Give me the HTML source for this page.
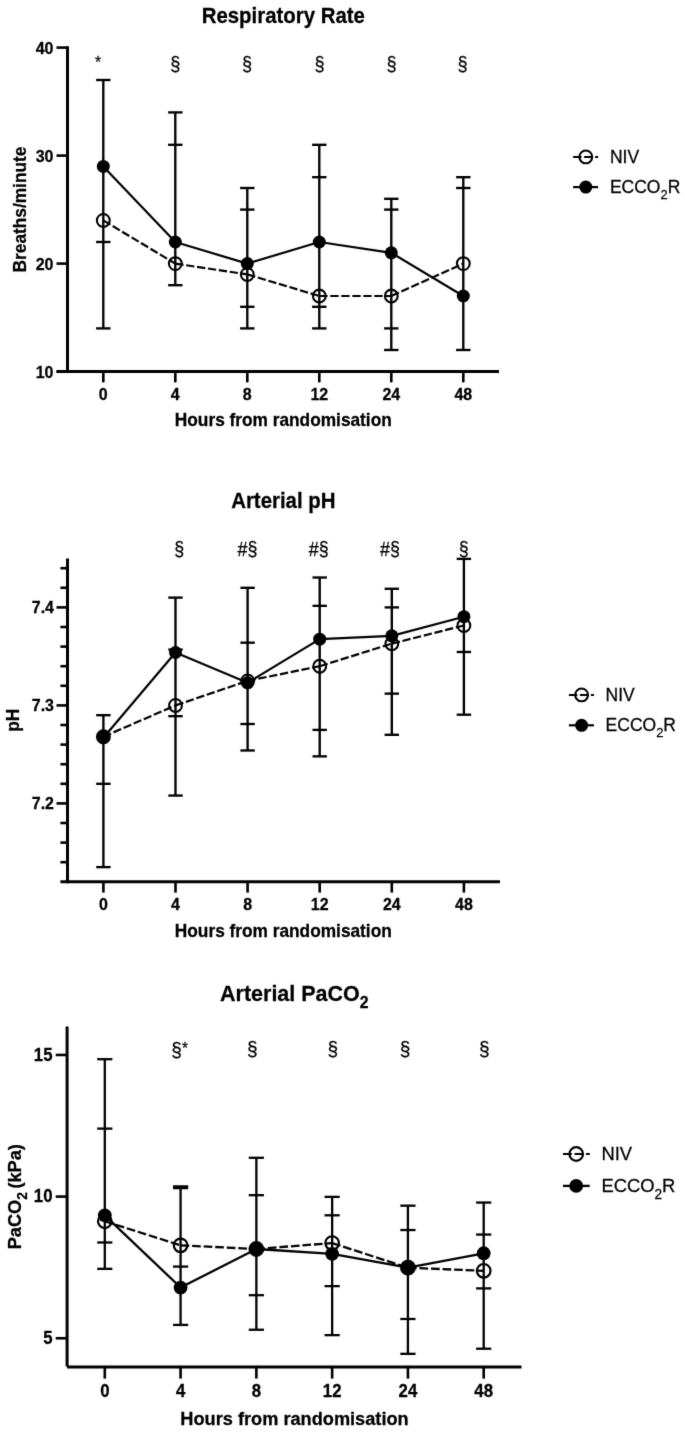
<!DOCTYPE html>
<html><head><meta charset="utf-8"><style>
html,body{margin:0;padding:0;background:#fff;}
svg{display:block;}
#w{width:685px;height:1432px;}
text{font-family:"Liberation Sans", sans-serif;fill:#000;}
</style></head><body>
<div id="w">
<svg width="685" height="1432" viewBox="0 0 685 1432" stroke="#000" stroke-linecap="butt">
<defs><filter id="soft" filterUnits="userSpaceOnUse" x="0" y="0" width="685" height="1432" color-interpolation-filters="sRGB"><feConvolveMatrix order="3" kernelMatrix="1 8 1 8 64 8 1 8 1" divisor="100" edgeMode="duplicate"/></filter></defs>
<g filter="url(#soft)">
<rect x="0" y="0" width="685" height="1432" fill="#fff" stroke="none"/>
<line x1="67.50" y1="46.30" x2="67.50" y2="373.10" stroke-width="3.0" />
<line x1="56.50" y1="371.60" x2="499.00" y2="371.60" stroke-width="3.0" />
<line x1="56.50" y1="47.60" x2="67.50" y2="47.60" stroke-width="2.6" />
<text stroke="#000" stroke-width="0.25" transform="translate(53.50,53.90) scale(1,1.04)" font-size="16" font-weight="bold" text-anchor="end" >40</text>
<line x1="56.50" y1="155.60" x2="67.50" y2="155.60" stroke-width="2.6" />
<text stroke="#000" stroke-width="0.25" transform="translate(53.50,161.90) scale(1,1.04)" font-size="16" font-weight="bold" text-anchor="end" >30</text>
<line x1="56.50" y1="263.60" x2="67.50" y2="263.60" stroke-width="2.6" />
<text stroke="#000" stroke-width="0.25" transform="translate(53.50,269.90) scale(1,1.04)" font-size="16" font-weight="bold" text-anchor="end" >20</text>
<line x1="56.50" y1="371.60" x2="67.50" y2="371.60" stroke-width="2.6" />
<text stroke="#000" stroke-width="0.25" transform="translate(53.50,377.90) scale(1,1.04)" font-size="16" font-weight="bold" text-anchor="end" >10</text>
<line x1="103.30" y1="371.60" x2="103.30" y2="382.40" stroke-width="2.6" />
<text stroke="#000" stroke-width="0.25" transform="translate(103.30,400.00) scale(1,1.04)" font-size="16" font-weight="bold" text-anchor="middle" >0</text>
<line x1="175.30" y1="371.60" x2="175.30" y2="382.40" stroke-width="2.6" />
<text stroke="#000" stroke-width="0.25" transform="translate(175.30,400.00) scale(1,1.04)" font-size="16" font-weight="bold" text-anchor="middle" >4</text>
<line x1="247.30" y1="371.60" x2="247.30" y2="382.40" stroke-width="2.6" />
<text stroke="#000" stroke-width="0.25" transform="translate(247.30,400.00) scale(1,1.04)" font-size="16" font-weight="bold" text-anchor="middle" >8</text>
<line x1="319.30" y1="371.60" x2="319.30" y2="382.40" stroke-width="2.6" />
<text stroke="#000" stroke-width="0.25" transform="translate(319.30,400.00) scale(1,1.04)" font-size="16" font-weight="bold" text-anchor="middle" >12</text>
<line x1="391.30" y1="371.60" x2="391.30" y2="382.40" stroke-width="2.6" />
<text stroke="#000" stroke-width="0.25" transform="translate(391.30,400.00) scale(1,1.04)" font-size="16" font-weight="bold" text-anchor="middle" >24</text>
<line x1="463.30" y1="371.60" x2="463.30" y2="382.40" stroke-width="2.6" />
<text stroke="#000" stroke-width="0.25" transform="translate(463.30,400.00) scale(1,1.04)" font-size="16" font-weight="bold" text-anchor="middle" >48</text>
<text stroke="#000" stroke-width="0.25" transform="translate(283.30,425.60) scale(1,1.04)" font-size="17.3" font-weight="bold" text-anchor="middle" >Hours from randomisation</text>
<text stroke="#000" stroke-width="0.25" transform="translate(26.40,209.50) rotate(-90) scale(1,1.04)" font-size="17.3" font-weight="bold" text-anchor="middle">Breaths/minute</text>
<text stroke="#000" stroke-width="0.25" transform="translate(283.30,22.60) scale(1,1.04)" font-size="20.4" font-weight="bold" text-anchor="middle" >Respiratory Rate</text>
<line x1="103.30" y1="80.00" x2="103.30" y2="328.40" stroke-width="2.35" />
<line x1="96.10" y1="80.00" x2="110.50" y2="80.00" stroke-width="2.35" />
<line x1="96.10" y1="242.00" x2="110.50" y2="242.00" stroke-width="2.35" />
<line x1="96.10" y1="328.40" x2="110.50" y2="328.40" stroke-width="2.35" />
<line x1="175.30" y1="112.40" x2="175.30" y2="285.20" stroke-width="2.35" />
<line x1="168.10" y1="112.40" x2="182.50" y2="112.40" stroke-width="2.35" />
<line x1="168.10" y1="144.80" x2="182.50" y2="144.80" stroke-width="2.35" />
<line x1="168.10" y1="285.20" x2="182.50" y2="285.20" stroke-width="2.35" />
<line x1="247.30" y1="188.00" x2="247.30" y2="328.40" stroke-width="2.35" />
<line x1="240.10" y1="188.00" x2="254.50" y2="188.00" stroke-width="2.35" />
<line x1="240.10" y1="209.60" x2="254.50" y2="209.60" stroke-width="2.35" />
<line x1="240.10" y1="306.80" x2="254.50" y2="306.80" stroke-width="2.35" />
<line x1="240.10" y1="328.40" x2="254.50" y2="328.40" stroke-width="2.35" />
<line x1="319.30" y1="144.80" x2="319.30" y2="328.40" stroke-width="2.35" />
<line x1="312.10" y1="144.80" x2="326.50" y2="144.80" stroke-width="2.35" />
<line x1="312.10" y1="177.20" x2="326.50" y2="177.20" stroke-width="2.35" />
<line x1="312.10" y1="306.80" x2="326.50" y2="306.80" stroke-width="2.35" />
<line x1="312.10" y1="328.40" x2="326.50" y2="328.40" stroke-width="2.35" />
<line x1="391.30" y1="198.80" x2="391.30" y2="350.00" stroke-width="2.35" />
<line x1="384.10" y1="198.80" x2="398.50" y2="198.80" stroke-width="2.35" />
<line x1="384.10" y1="209.60" x2="398.50" y2="209.60" stroke-width="2.35" />
<line x1="384.10" y1="328.40" x2="398.50" y2="328.40" stroke-width="2.35" />
<line x1="384.10" y1="350.00" x2="398.50" y2="350.00" stroke-width="2.35" />
<line x1="463.30" y1="177.20" x2="463.30" y2="350.00" stroke-width="2.35" />
<line x1="456.10" y1="177.20" x2="470.50" y2="177.20" stroke-width="2.35" />
<line x1="456.10" y1="188.00" x2="470.50" y2="188.00" stroke-width="2.35" />
<line x1="456.10" y1="350.00" x2="470.50" y2="350.00" stroke-width="2.35" />
<polyline points="103.30,166.40 175.30,242.00 247.30,263.60 319.30,242.00 391.30,252.80 463.30,296.00" fill="none" stroke-width="2.2" stroke-linejoin="round"/>
<line x1="103.30" y1="220.40" x2="175.30" y2="263.60" stroke-width="2.2" stroke-dasharray="8.3 2.7"/>
<line x1="175.30" y1="263.60" x2="247.30" y2="274.40" stroke-width="2.2" stroke-dasharray="8.3 2.7"/>
<line x1="247.30" y1="274.40" x2="319.30" y2="296.00" stroke-width="2.2" stroke-dasharray="8.3 2.7"/>
<line x1="319.30" y1="296.00" x2="391.30" y2="296.00" stroke-width="2.2" stroke-dasharray="8.3 2.7"/>
<line x1="391.30" y1="296.00" x2="463.30" y2="263.60" stroke-width="2.2" stroke-dasharray="8.3 2.7"/>
<circle cx="103.30" cy="166.40" r="6.5" fill="#000" stroke="none"/>
<circle cx="175.30" cy="242.00" r="6.5" fill="#000" stroke="none"/>
<circle cx="247.30" cy="263.60" r="6.5" fill="#000" stroke="none"/>
<circle cx="319.30" cy="242.00" r="6.5" fill="#000" stroke="none"/>
<circle cx="391.30" cy="252.80" r="6.5" fill="#000" stroke="none"/>
<circle cx="463.30" cy="296.00" r="6.5" fill="#000" stroke="none"/>
<circle cx="103.30" cy="220.40" r="6.4" fill="none" stroke-width="2.1"/>
<circle cx="175.30" cy="263.60" r="6.4" fill="none" stroke-width="2.1"/>
<circle cx="247.30" cy="274.40" r="6.4" fill="none" stroke-width="2.1"/>
<circle cx="319.30" cy="296.00" r="6.4" fill="none" stroke-width="2.1"/>
<circle cx="391.30" cy="296.00" r="6.4" fill="none" stroke-width="2.1"/>
<circle cx="463.30" cy="263.60" r="6.4" fill="none" stroke-width="2.1"/>
<text stroke="#000" stroke-width="0.25" transform="translate(98.00,68.20) scale(0.92,1)" font-size="17" font-weight="normal" text-anchor="middle">*</text>
<text stroke="#000" stroke-width="0.25" transform="translate(175.20,71.20) scale(0.92,1)" font-size="19.8" font-weight="normal" text-anchor="middle">§</text>
<text stroke="#000" stroke-width="0.25" transform="translate(247.00,71.20) scale(0.92,1)" font-size="19.8" font-weight="normal" text-anchor="middle">§</text>
<text stroke="#000" stroke-width="0.25" transform="translate(319.60,71.20) scale(0.92,1)" font-size="19.8" font-weight="normal" text-anchor="middle">§</text>
<text stroke="#000" stroke-width="0.25" transform="translate(391.50,71.20) scale(0.92,1)" font-size="19.8" font-weight="normal" text-anchor="middle">§</text>
<text stroke="#000" stroke-width="0.25" transform="translate(462.60,71.20) scale(0.92,1)" font-size="19.8" font-weight="normal" text-anchor="middle">§</text>
<line x1="573.10" y1="156.90" x2="598.10" y2="156.90" stroke-width="2.00" stroke-dasharray="8.40 2.60"/>
<circle cx="585.80" cy="156.90" r="6.4" fill="none" stroke-width="2.1"/>
<line x1="573.10" y1="187.10" x2="598.10" y2="187.10" stroke-width="2.20"/>
<circle cx="585.80" cy="187.10" r="6.5" fill="#000" stroke="none"/>
<text stroke="#000" stroke-width="0.25" transform="translate(609.90,162.70) scale(1,1.04)" font-size="17.5" font-weight="normal">NIV</text>
<text stroke="#000" stroke-width="0.25" transform="translate(609.90,192.90) scale(1,1.04)" font-size="17.5" font-weight="normal">ECCO<tspan font-size="12.95" dy="6.00">2</tspan><tspan dy="-6.00">R</tspan></text>
<line x1="67.50" y1="558.40" x2="67.50" y2="883.30" stroke-width="3.0" />
<line x1="60.40" y1="881.80" x2="500.00" y2="881.80" stroke-width="3.0" />
<line x1="56.50" y1="607.40" x2="67.50" y2="607.40" stroke-width="2.6" />
<text stroke="#000" stroke-width="0.25" transform="translate(54.00,613.40) scale(1,1.04)" font-size="16" font-weight="bold" text-anchor="end" >7.4</text>
<line x1="56.50" y1="705.40" x2="67.50" y2="705.40" stroke-width="2.6" />
<text stroke="#000" stroke-width="0.25" transform="translate(54.00,711.40) scale(1,1.04)" font-size="16" font-weight="bold" text-anchor="end" >7.3</text>
<line x1="56.50" y1="803.40" x2="67.50" y2="803.40" stroke-width="2.6" />
<text stroke="#000" stroke-width="0.25" transform="translate(54.00,809.40) scale(1,1.04)" font-size="16" font-weight="bold" text-anchor="end" >7.2</text>
<line x1="60.40" y1="568.20" x2="67.50" y2="568.20" stroke-width="2.6" />
<line x1="60.40" y1="587.80" x2="67.50" y2="587.80" stroke-width="2.6" />
<line x1="60.40" y1="627.00" x2="67.50" y2="627.00" stroke-width="2.6" />
<line x1="60.40" y1="646.60" x2="67.50" y2="646.60" stroke-width="2.6" />
<line x1="60.40" y1="666.20" x2="67.50" y2="666.20" stroke-width="2.6" />
<line x1="60.40" y1="685.80" x2="67.50" y2="685.80" stroke-width="2.6" />
<line x1="60.40" y1="725.00" x2="67.50" y2="725.00" stroke-width="2.6" />
<line x1="60.40" y1="744.60" x2="67.50" y2="744.60" stroke-width="2.6" />
<line x1="60.40" y1="764.20" x2="67.50" y2="764.20" stroke-width="2.6" />
<line x1="60.40" y1="783.80" x2="67.50" y2="783.80" stroke-width="2.6" />
<line x1="60.40" y1="823.00" x2="67.50" y2="823.00" stroke-width="2.6" />
<line x1="60.40" y1="842.60" x2="67.50" y2="842.60" stroke-width="2.6" />
<line x1="60.40" y1="862.20" x2="67.50" y2="862.20" stroke-width="2.6" />
<line x1="103.40" y1="881.80" x2="103.40" y2="892.60" stroke-width="2.6" />
<text stroke="#000" stroke-width="0.25" transform="translate(103.40,910.40) scale(1,1.04)" font-size="16" font-weight="bold" text-anchor="middle" >0</text>
<line x1="175.50" y1="881.80" x2="175.50" y2="892.60" stroke-width="2.6" />
<text stroke="#000" stroke-width="0.25" transform="translate(175.50,910.40) scale(1,1.04)" font-size="16" font-weight="bold" text-anchor="middle" >4</text>
<line x1="247.60" y1="881.80" x2="247.60" y2="892.60" stroke-width="2.6" />
<text stroke="#000" stroke-width="0.25" transform="translate(247.60,910.40) scale(1,1.04)" font-size="16" font-weight="bold" text-anchor="middle" >8</text>
<line x1="319.70" y1="881.80" x2="319.70" y2="892.60" stroke-width="2.6" />
<text stroke="#000" stroke-width="0.25" transform="translate(319.70,910.40) scale(1,1.04)" font-size="16" font-weight="bold" text-anchor="middle" >12</text>
<line x1="391.80" y1="881.80" x2="391.80" y2="892.60" stroke-width="2.6" />
<text stroke="#000" stroke-width="0.25" transform="translate(391.80,910.40) scale(1,1.04)" font-size="16" font-weight="bold" text-anchor="middle" >24</text>
<line x1="463.90" y1="881.80" x2="463.90" y2="892.60" stroke-width="2.6" />
<text stroke="#000" stroke-width="0.25" transform="translate(463.90,910.40) scale(1,1.04)" font-size="16" font-weight="bold" text-anchor="middle" >48</text>
<text stroke="#000" stroke-width="0.25" transform="translate(283.30,937.40) scale(1,1.04)" font-size="17.3" font-weight="bold" text-anchor="middle" >Hours from randomisation</text>
<text stroke="#000" stroke-width="0.25" transform="translate(18.90,720.20) rotate(-90) scale(1,1.04)" font-size="17.3" font-weight="bold" text-anchor="middle">pH</text>
<text stroke="#000" stroke-width="0.25" transform="translate(283.30,507.60) scale(1,1.04)" font-size="20.4" font-weight="bold" text-anchor="middle" >Arterial pH</text>
<line x1="103.40" y1="715.20" x2="103.40" y2="867.10" stroke-width="2.35" />
<line x1="96.20" y1="715.20" x2="110.60" y2="715.20" stroke-width="2.35" />
<line x1="96.20" y1="783.80" x2="110.60" y2="783.80" stroke-width="2.35" />
<line x1="96.20" y1="867.10" x2="110.60" y2="867.10" stroke-width="2.35" />
<line x1="175.50" y1="597.60" x2="175.50" y2="795.56" stroke-width="2.35" />
<line x1="168.30" y1="597.60" x2="182.70" y2="597.60" stroke-width="2.35" />
<line x1="168.30" y1="649.54" x2="182.70" y2="649.54" stroke-width="2.35" />
<line x1="168.30" y1="716.18" x2="182.70" y2="716.18" stroke-width="2.35" />
<line x1="168.30" y1="795.56" x2="182.70" y2="795.56" stroke-width="2.35" />
<line x1="247.60" y1="587.80" x2="247.60" y2="750.48" stroke-width="2.35" />
<line x1="240.40" y1="587.80" x2="254.80" y2="587.80" stroke-width="2.35" />
<line x1="240.40" y1="642.68" x2="254.80" y2="642.68" stroke-width="2.35" />
<line x1="240.40" y1="724.02" x2="254.80" y2="724.02" stroke-width="2.35" />
<line x1="240.40" y1="750.48" x2="254.80" y2="750.48" stroke-width="2.35" />
<line x1="319.70" y1="577.51" x2="319.70" y2="756.36" stroke-width="2.35" />
<line x1="312.50" y1="577.51" x2="326.90" y2="577.51" stroke-width="2.35" />
<line x1="312.50" y1="605.83" x2="326.90" y2="605.83" stroke-width="2.35" />
<line x1="312.50" y1="729.90" x2="326.90" y2="729.90" stroke-width="2.35" />
<line x1="312.50" y1="756.36" x2="326.90" y2="756.36" stroke-width="2.35" />
<line x1="391.80" y1="588.78" x2="391.80" y2="734.80" stroke-width="2.35" />
<line x1="384.60" y1="588.78" x2="399.00" y2="588.78" stroke-width="2.35" />
<line x1="384.60" y1="607.40" x2="399.00" y2="607.40" stroke-width="2.35" />
<line x1="384.60" y1="693.64" x2="399.00" y2="693.64" stroke-width="2.35" />
<line x1="384.60" y1="734.80" x2="399.00" y2="734.80" stroke-width="2.35" />
<line x1="463.90" y1="558.89" x2="463.90" y2="714.71" stroke-width="2.35" />
<line x1="456.70" y1="558.89" x2="471.10" y2="558.89" stroke-width="2.35" />
<line x1="456.70" y1="651.99" x2="471.10" y2="651.99" stroke-width="2.35" />
<line x1="456.70" y1="714.71" x2="471.10" y2="714.71" stroke-width="2.35" />
<polyline points="103.40,737.74 175.50,652.48 247.60,682.86 319.70,639.15 391.80,635.82 463.90,616.71" fill="none" stroke-width="2.2" stroke-linejoin="round"/>
<line x1="103.40" y1="736.76" x2="175.50" y2="705.40" stroke-width="2.2" stroke-dasharray="8.3 2.7"/>
<line x1="175.50" y1="705.40" x2="247.60" y2="680.90" stroke-width="2.2" stroke-dasharray="8.3 2.7"/>
<line x1="247.60" y1="680.90" x2="319.70" y2="666.20" stroke-width="2.2" stroke-dasharray="8.3 2.7"/>
<line x1="319.70" y1="666.20" x2="391.80" y2="643.66" stroke-width="2.2" stroke-dasharray="8.3 2.7"/>
<line x1="391.80" y1="643.66" x2="463.90" y2="625.43" stroke-width="2.2" stroke-dasharray="8.3 2.7"/>
<circle cx="103.40" cy="737.74" r="6.5" fill="#000" stroke="none"/>
<circle cx="175.50" cy="652.48" r="6.5" fill="#000" stroke="none"/>
<circle cx="247.60" cy="682.86" r="6.5" fill="#000" stroke="none"/>
<circle cx="319.70" cy="639.15" r="6.5" fill="#000" stroke="none"/>
<circle cx="391.80" cy="635.82" r="6.5" fill="#000" stroke="none"/>
<circle cx="463.90" cy="616.71" r="6.5" fill="#000" stroke="none"/>
<circle cx="103.40" cy="736.76" r="6.4" fill="none" stroke-width="2.1"/>
<circle cx="175.50" cy="705.40" r="6.4" fill="none" stroke-width="2.1"/>
<circle cx="247.60" cy="680.90" r="6.4" fill="none" stroke-width="2.1"/>
<circle cx="319.70" cy="666.20" r="6.4" fill="none" stroke-width="2.1"/>
<circle cx="391.80" cy="643.66" r="6.4" fill="none" stroke-width="2.1"/>
<circle cx="463.90" cy="625.43" r="6.4" fill="none" stroke-width="2.1"/>
<text stroke="#000" stroke-width="0.25" transform="translate(179.30,556.00) scale(0.92,1)" font-size="19.5" font-weight="normal" text-anchor="middle">§</text>
<text stroke="#000" stroke-width="0.25" transform="translate(247.40,556.00) scale(0.92,1)" font-size="19.5" font-weight="normal" text-anchor="middle">#§</text>
<text stroke="#000" stroke-width="0.25" transform="translate(318.80,556.00) scale(0.92,1)" font-size="19.5" font-weight="normal" text-anchor="middle">#§</text>
<text stroke="#000" stroke-width="0.25" transform="translate(390.00,556.00) scale(0.92,1)" font-size="19.5" font-weight="normal" text-anchor="middle">#§</text>
<text stroke="#000" stroke-width="0.25" transform="translate(463.70,556.00) scale(0.92,1)" font-size="19.5" font-weight="normal" text-anchor="middle">§</text>
<line x1="568.90" y1="694.90" x2="593.90" y2="694.90" stroke-width="2.00" stroke-dasharray="8.40 2.60"/>
<circle cx="581.60" cy="694.90" r="6.4" fill="none" stroke-width="2.1"/>
<line x1="568.90" y1="725.30" x2="593.90" y2="725.30" stroke-width="2.20"/>
<circle cx="581.60" cy="725.30" r="6.5" fill="#000" stroke="none"/>
<text stroke="#000" stroke-width="0.25" transform="translate(605.60,700.70) scale(1,1.04)" font-size="17.5" font-weight="normal">NIV</text>
<text stroke="#000" stroke-width="0.25" transform="translate(605.60,731.10) scale(1,1.04)" font-size="17.5" font-weight="normal">ECCO<tspan font-size="12.95" dy="6.00">2</tspan><tspan dy="-6.00">R</tspan></text>
<line x1="67.10" y1="1026.60" x2="67.10" y2="1366.50" stroke-width="3.0" />
<line x1="67.10" y1="1367.00" x2="521.50" y2="1367.00" stroke-width="3.0" />
<line x1="55.70" y1="1054.95" x2="67.10" y2="1054.95" stroke-width="2.6" />
<text stroke="#000" stroke-width="0.25" transform="translate(52.50,1060.55) scale(1,1.04)" font-size="16.8" font-weight="bold" text-anchor="end" >15</text>
<line x1="55.70" y1="1196.60" x2="67.10" y2="1196.60" stroke-width="2.6" />
<text stroke="#000" stroke-width="0.25" transform="translate(52.50,1202.20) scale(1,1.04)" font-size="16.8" font-weight="bold" text-anchor="end" >10</text>
<line x1="55.70" y1="1338.25" x2="67.10" y2="1338.25" stroke-width="2.6" />
<text stroke="#000" stroke-width="0.25" transform="translate(52.50,1343.85) scale(1,1.04)" font-size="16.8" font-weight="bold" text-anchor="end" >5</text>
<line x1="104.80" y1="1367.00" x2="104.80" y2="1378.60" stroke-width="2.6" />
<text stroke="#000" stroke-width="0.25" transform="translate(104.80,1396.80) scale(1,1.04)" font-size="16.8" font-weight="bold" text-anchor="middle" >0</text>
<line x1="180.58" y1="1367.00" x2="180.58" y2="1378.60" stroke-width="2.6" />
<text stroke="#000" stroke-width="0.25" transform="translate(180.58,1396.80) scale(1,1.04)" font-size="16.8" font-weight="bold" text-anchor="middle" >4</text>
<line x1="256.36" y1="1367.00" x2="256.36" y2="1378.60" stroke-width="2.6" />
<text stroke="#000" stroke-width="0.25" transform="translate(256.36,1396.80) scale(1,1.04)" font-size="16.8" font-weight="bold" text-anchor="middle" >8</text>
<line x1="332.14" y1="1367.00" x2="332.14" y2="1378.60" stroke-width="2.6" />
<text stroke="#000" stroke-width="0.25" transform="translate(332.14,1396.80) scale(1,1.04)" font-size="16.8" font-weight="bold" text-anchor="middle" >12</text>
<line x1="407.92" y1="1367.00" x2="407.92" y2="1378.60" stroke-width="2.6" />
<text stroke="#000" stroke-width="0.25" transform="translate(407.92,1396.80) scale(1,1.04)" font-size="16.8" font-weight="bold" text-anchor="middle" >24</text>
<line x1="483.70" y1="1367.00" x2="483.70" y2="1378.60" stroke-width="2.6" />
<text stroke="#000" stroke-width="0.25" transform="translate(483.70,1396.80) scale(1,1.04)" font-size="16.8" font-weight="bold" text-anchor="middle" >48</text>
<text stroke="#000" stroke-width="0.25" transform="translate(294.50,1425.20) scale(1,1.04)" font-size="18.2" font-weight="bold" text-anchor="middle" >Hours from randomisation</text>
<text stroke="#000" stroke-width="0.25" transform="translate(21.20,1196.70) rotate(-90) scale(1,1.04)" font-size="18.2" font-weight="bold" text-anchor="middle">PaCO<tspan font-size="13.8" dy="5.5">2</tspan><tspan dy="-5.5" dx="-1.5"> (kPa)</tspan></text>
<text stroke="#000" stroke-width="0.25" transform="translate(294.30,1000.70) scale(1,1.04)" font-size="21.5" font-weight="bold" text-anchor="middle" >Arterial PaCO<tspan font-size="15.8" dy="7">2</tspan></text>
<line x1="104.80" y1="1059.20" x2="104.80" y2="1268.84" stroke-width="2.3" />
<line x1="97.20" y1="1059.20" x2="112.40" y2="1059.20" stroke-width="2.3" />
<line x1="97.20" y1="1128.61" x2="112.40" y2="1128.61" stroke-width="2.3" />
<line x1="97.20" y1="1242.49" x2="112.40" y2="1242.49" stroke-width="2.3" />
<line x1="97.20" y1="1268.84" x2="112.40" y2="1268.84" stroke-width="2.3" />
<line x1="180.58" y1="1186.40" x2="180.58" y2="1324.93" stroke-width="2.3" />
<line x1="172.98" y1="1186.40" x2="188.18" y2="1186.40" stroke-width="2.3" />
<line x1="172.98" y1="1188.10" x2="188.18" y2="1188.10" stroke-width="2.3" />
<line x1="172.98" y1="1266.58" x2="188.18" y2="1266.58" stroke-width="2.3" />
<line x1="172.98" y1="1324.93" x2="188.18" y2="1324.93" stroke-width="2.3" />
<line x1="256.36" y1="1157.79" x2="256.36" y2="1329.75" stroke-width="2.3" />
<line x1="248.76" y1="1157.79" x2="263.96" y2="1157.79" stroke-width="2.3" />
<line x1="248.76" y1="1195.18" x2="263.96" y2="1195.18" stroke-width="2.3" />
<line x1="248.76" y1="1295.19" x2="263.96" y2="1295.19" stroke-width="2.3" />
<line x1="248.76" y1="1329.75" x2="263.96" y2="1329.75" stroke-width="2.3" />
<line x1="332.14" y1="1196.88" x2="332.14" y2="1335.13" stroke-width="2.3" />
<line x1="324.54" y1="1196.88" x2="339.74" y2="1196.88" stroke-width="2.3" />
<line x1="324.54" y1="1215.30" x2="339.74" y2="1215.30" stroke-width="2.3" />
<line x1="324.54" y1="1286.12" x2="339.74" y2="1286.12" stroke-width="2.3" />
<line x1="324.54" y1="1335.13" x2="339.74" y2="1335.13" stroke-width="2.3" />
<line x1="407.92" y1="1205.67" x2="407.92" y2="1353.83" stroke-width="2.3" />
<line x1="400.32" y1="1205.67" x2="415.52" y2="1205.67" stroke-width="2.3" />
<line x1="400.32" y1="1230.03" x2="415.52" y2="1230.03" stroke-width="2.3" />
<line x1="400.32" y1="1318.99" x2="415.52" y2="1318.99" stroke-width="2.3" />
<line x1="400.32" y1="1353.83" x2="415.52" y2="1353.83" stroke-width="2.3" />
<line x1="483.70" y1="1202.55" x2="483.70" y2="1348.73" stroke-width="2.3" />
<line x1="476.10" y1="1202.55" x2="491.30" y2="1202.55" stroke-width="2.3" />
<line x1="476.10" y1="1234.56" x2="491.30" y2="1234.56" stroke-width="2.3" />
<line x1="476.10" y1="1288.39" x2="491.30" y2="1288.39" stroke-width="2.3" />
<line x1="476.10" y1="1348.73" x2="491.30" y2="1348.73" stroke-width="2.3" />
<polyline points="104.80,1215.30 180.58,1287.54 256.36,1249.01 332.14,1253.83 407.92,1267.71 483.70,1253.26" fill="none" stroke-width="2.3" stroke-linejoin="round"/>
<line x1="104.80" y1="1221.25" x2="180.58" y2="1245.33" stroke-width="2.3" stroke-dasharray="8.7 2.85"/>
<line x1="180.58" y1="1245.33" x2="256.36" y2="1249.01" stroke-width="2.3" stroke-dasharray="8.7 2.85"/>
<line x1="256.36" y1="1249.01" x2="332.14" y2="1243.06" stroke-width="2.3" stroke-dasharray="8.7 2.85"/>
<line x1="332.14" y1="1243.06" x2="407.92" y2="1267.71" stroke-width="2.3" stroke-dasharray="8.7 2.85"/>
<line x1="407.92" y1="1267.71" x2="483.70" y2="1270.82" stroke-width="2.3" stroke-dasharray="8.7 2.85"/>
<circle cx="104.80" cy="1215.30" r="6.9" fill="#000" stroke="none"/>
<circle cx="180.58" cy="1287.54" r="6.9" fill="#000" stroke="none"/>
<circle cx="256.36" cy="1249.01" r="6.9" fill="#000" stroke="none"/>
<circle cx="332.14" cy="1253.83" r="6.9" fill="#000" stroke="none"/>
<circle cx="407.92" cy="1267.71" r="6.9" fill="#000" stroke="none"/>
<circle cx="483.70" cy="1253.26" r="6.9" fill="#000" stroke="none"/>
<circle cx="104.80" cy="1221.25" r="6.8" fill="none" stroke-width="2.2"/>
<circle cx="180.58" cy="1245.33" r="6.8" fill="none" stroke-width="2.2"/>
<circle cx="256.36" cy="1249.01" r="6.8" fill="none" stroke-width="2.2"/>
<circle cx="332.14" cy="1243.06" r="6.8" fill="none" stroke-width="2.2"/>
<circle cx="407.92" cy="1267.71" r="6.8" fill="none" stroke-width="2.2"/>
<circle cx="483.70" cy="1270.82" r="6.8" fill="none" stroke-width="2.2"/>
<text stroke="#000" stroke-width="0.25" transform="translate(179.60,1056.60) scale(0.92,1)" font-size="20.8" font-weight="normal" text-anchor="middle">§<tspan font-size="16.5" dy="-3">*</tspan></text>
<text stroke="#000" stroke-width="0.25" transform="translate(252.40,1056.10) scale(0.92,1)" font-size="20.8" font-weight="normal" text-anchor="middle">§</text>
<text stroke="#000" stroke-width="0.25" transform="translate(332.90,1056.10) scale(0.92,1)" font-size="20.8" font-weight="normal" text-anchor="middle">§</text>
<text stroke="#000" stroke-width="0.25" transform="translate(405.00,1056.10) scale(0.92,1)" font-size="20.8" font-weight="normal" text-anchor="middle">§</text>
<text stroke="#000" stroke-width="0.25" transform="translate(484.30,1056.10) scale(0.92,1)" font-size="20.8" font-weight="normal" text-anchor="middle">§</text>
<line x1="563.00" y1="1154.00" x2="589.70" y2="1154.00" stroke-width="2.10" stroke-dasharray="8.82 2.73"/>
<circle cx="576.20" cy="1154.00" r="6.8" fill="none" stroke-width="2.2"/>
<line x1="563.00" y1="1185.90" x2="589.70" y2="1185.90" stroke-width="2.31"/>
<circle cx="576.20" cy="1185.90" r="6.9" fill="#000" stroke="none"/>
<text stroke="#000" stroke-width="0.25" transform="translate(601.40,1160.10) scale(1,1.04)" font-size="18.4" font-weight="normal">NIV</text>
<text stroke="#000" stroke-width="0.25" transform="translate(601.40,1192.00) scale(1,1.04)" font-size="18.4" font-weight="normal">ECCO<tspan font-size="13.62" dy="6.30">2</tspan><tspan dy="-6.30">R</tspan></text>
</g>
</svg>
</div>
</body></html>
